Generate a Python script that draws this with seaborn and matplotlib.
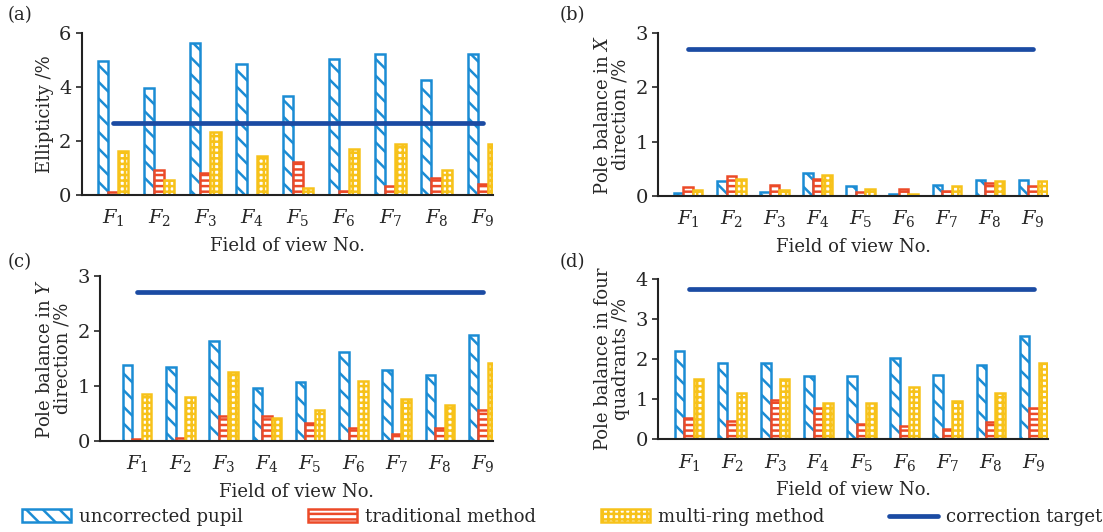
import numpy as np
import pandas as pd
import matplotlib
matplotlib.use('Agg')
import matplotlib.pyplot as plt
from matplotlib.patches import Patch
from matplotlib.lines import Line2D
import seaborn as sns

fields = ['$F_{%d}$' % i for i in range(1, 10)]
methods = ['uncorrected pupil', 'traditional method', 'multi-ring method']

# (a) ellipticity
ell_uncorr = [4.97, 3.96, 5.63, 4.86, 3.65, 5.04, 5.22, 4.27, 5.22]
ell_trad = [0.10, 0.93, 0.80, 0.00, 1.21, 0.15, 0.35, 0.64, 0.41]
ell_ring = [1.63, 0.56, 2.35, 1.46, 0.27, 1.71, 1.88, 0.93, 1.88]
ell_target = 2.67

# (b) pole balance X
px_uncorr = [0.05, 0.28, 0.07, 0.43, 0.18, 0.03, 0.21, 0.29, 0.29]
px_trad = [0.16, 0.37, 0.20, 0.32, 0.07, 0.12, 0.09, 0.23, 0.18]
px_ring = [0.11, 0.32, 0.11, 0.38, 0.12, 0.03, 0.19, 0.27, 0.27]
px_target = 2.70

# (c) pole balance Y
py_uncorr = [1.38, 1.35, 1.82, 0.97, 1.07, 1.61, 1.29, 1.20, 1.92]
py_trad = [0.03, 0.05, 0.46, 0.46, 0.33, 0.24, 0.12, 0.24, 0.56]
py_ring = [0.85, 0.80, 1.26, 0.41, 0.56, 1.09, 0.77, 0.65, 1.41]
py_target = 2.70

# (d) pole balance in four quadrants
pq_uncorr = [2.19, 1.90, 1.90, 1.58, 1.58, 2.02, 1.60, 1.85, 2.58]
pq_trad = [0.52, 0.44, 0.98, 0.77, 0.37, 0.33, 0.26, 0.42, 0.77]
pq_ring = [1.50, 1.16, 1.50, 0.90, 0.90, 1.30, 0.94, 1.16, 1.90]
pq_target = 3.74

blue = '#1b8cd4'
red = '#ec4a28'
yellow = '#f7c21a'
navy = '#1b4ba3'
colors = [blue, red, yellow]
hatches = ['\\\\', '---', '+++']

sns.set_style('ticks')
plt.rcParams['font.family'] = ['DejaVu Serif']
plt.rcParams['mathtext.fontset'] = 'dejavuserif'
plt.rcParams['hatch.linewidth'] = 1.8
plt.rcParams['font.size'] = 13


def long_form(a, b, c):
    return pd.DataFrame({
        'field': fields * 3,
        'value': a + b + c,
        'method': [methods[0]] * 9 + [methods[1]] * 9 + [methods[2]] * 9,
    })


def draw(ax, a, b, c, target, ylim, yticks, ylabel, xlim):
    df = long_form(a, b, c)
    sns.barplot(data=df, x='field', y='value', hue='method', hue_order=methods,
                palette=colors, width=0.66, ax=ax, legend=False)
    for cont, col, h in zip(ax.containers, colors, hatches):
        for p in cont.patches:
            p.set_facecolor('white')
            p.set_edgecolor(col)
            p.set_hatch(h)
            p.set_linewidth(1.8)
    ax.hlines(target, 0, len(fields) - 1, color=navy, lw=3.4,
              capstyle='round', zorder=5)
    ax.set_ylim(*ylim)
    ax.set_yticks(yticks)
    ax.set_xlim(*xlim)
    ax.set_xlabel('Field of view No.', fontsize=13, labelpad=6)
    ax.set_ylabel(ylabel, fontsize=13, linespacing=1.0)
    ax.tick_params(axis='x', length=0, pad=9, labelsize=14)
    ax.tick_params(axis='y', length=4, width=1.2, direction='out', labelsize=14)
    for s in ['top', 'right']:
        ax.spines[s].set_visible(False)
    for s in ['left', 'bottom']:
        ax.spines[s].set_linewidth(1.5)
        ax.spines[s].set_color('#222222')


fig = plt.figure(figsize=(11.03, 5.32), dpi=100)
ax_a = fig.add_axes([0.0743, 0.6335, 0.3726, 0.3045])
ax_b = fig.add_axes([0.5966, 0.6316, 0.3536, 0.3064])
ax_c = fig.add_axes([0.0907, 0.1711, 0.3563, 0.3102])
ax_d = fig.add_axes([0.5966, 0.1748, 0.3536, 0.3008])

draw(ax_a, ell_uncorr, ell_trad, ell_ring, ell_target, (0, 6), [0, 2, 4, 6],
     'Ellipticity /%', (-0.67, 8.22))
draw(ax_b, px_uncorr, px_trad, px_ring, px_target, (0, 3), [0, 1, 2, 3],
     'Pole balance in $X$\ndirection /%', (-0.70, 8.35))
draw(ax_c, py_uncorr, py_trad, py_ring, py_target, (0, 3), [0, 1, 2, 3],
     'Pole balance in $Y$\ndirection /%', (-0.86, 8.23))
draw(ax_d, pq_uncorr, pq_trad, pq_ring, pq_target, (0, 4), [0, 1, 2, 3, 4],
     'Pole balance in four\nquadrants /%', (-0.72, 8.33))

for tag, x, y in [('(a)', 8, 517), ('(b)', 560, 517), ('(c)', 8, 270), ('(d)', 560, 270)]:
    fig.text(x / 1103, y / 532, tag, fontsize=13, va='center', ha='left')

handles = [Patch(facecolor='white', edgecolor=c, hatch=h, linewidth=1.8)
           for c, h in zip(colors, hatches)]
handles.append(Line2D([0], [0], color=navy, lw=3.4, solid_capstyle='round'))
fig.legend(handles, methods + ['correction target'], loc='center',
           bbox_to_anchor=(0.51, 15 / 532), ncol=4, frameon=False, fontsize=13,
           handlelength=2.7, handleheight=0.75, columnspacing=3.6,
           handletextpad=0.45, borderpad=0.1)

fig.savefig('out.png', dpi=100)
